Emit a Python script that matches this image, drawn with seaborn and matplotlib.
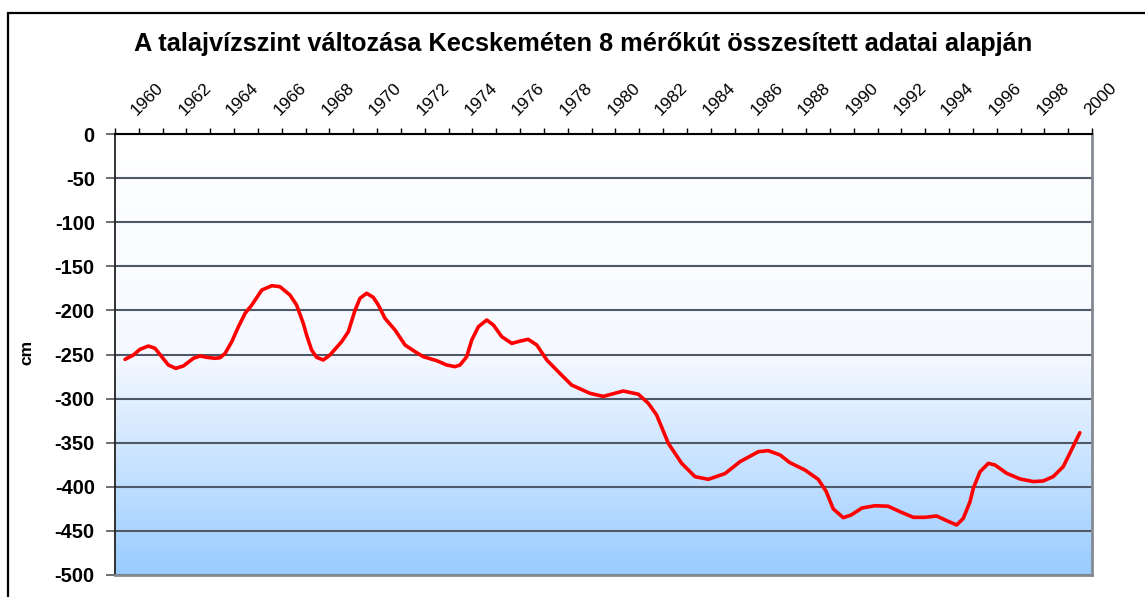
import numpy as np
import pandas as pd
import matplotlib
matplotlib.use("Agg")
import matplotlib.pyplot as plt
from matplotlib.colors import LinearSegmentedColormap
from matplotlib.patches import Rectangle
import seaborn as sns

# Groundwater level (cm below surface), averaged over 8 monitoring wells
years = [
    1959.42, 1959.77, 1960.05, 1960.40, 1960.68, 1960.96, 1961.24, 1961.55,
    1961.87, 1962.29, 1962.57, 1962.85, 1963.20, 1963.41, 1963.62, 1963.90,
    1964.18, 1964.46, 1964.74, 1965.16, 1965.58, 1965.92, 1966.34, 1966.62,
    1966.90, 1967.04, 1967.25, 1967.46, 1967.74, 1968.02, 1968.51, 1968.79,
    1969.07, 1969.28, 1969.56, 1969.84, 1970.05, 1970.33, 1970.75, 1971.17,
    1971.59, 1971.94, 1972.50, 1972.92, 1973.27, 1973.48, 1973.76, 1973.97,
    1974.25, 1974.60, 1974.88, 1975.23, 1975.65, 1976.00, 1976.34, 1976.70,
    1977.12, 1977.60, 1978.16, 1978.93, 1979.49, 1980.33, 1980.96, 1981.38,
    1981.73, 1982.22, 1982.78, 1983.34, 1983.90, 1984.60, 1985.23, 1986.00,
    1986.41, 1986.91, 1987.32, 1987.95, 1988.51, 1988.84, 1989.14, 1989.56,
    1989.89, 1990.35, 1990.89, 1991.44, 1991.94, 1992.50, 1992.99, 1993.48,
    1993.90, 1994.32, 1994.60, 1994.88, 1995.02, 1995.30, 1995.65, 1995.93,
    1996.42, 1996.98, 1997.54, 1997.95, 1998.37, 1998.79, 1999.00, 1999.49,
]
level_cm = [
    -255.5, -250.6, -244.1, -240.4, -243.0, -252.5, -261.9, -265.7,
    -263.0, -254.3, -251.7, -253.2, -254.3, -253.6, -248.7, -235.5,
    -218.5, -203.3, -193.9, -176.9, -172.0, -173.1, -182.5, -193.9,
    -214.6, -227.9, -244.9, -253.2, -256.2, -250.6, -235.5, -224.2,
    -200.0, -186.3, -180.6, -185.2, -193.9, -209.0, -222.2, -239.2,
    -246.8, -252.5, -257.0, -261.9, -263.8, -261.9, -252.5, -233.6,
    -218.5, -210.9, -216.6, -229.8, -237.4, -234.8, -232.8, -239.2,
    -256.2, -269.5, -284.6, -294.0, -297.5, -291.4, -295.0, -305.3,
    -318.6, -350.7, -373.4, -388.5, -391.5, -385.0, -371.5, -360.2,
    -359.0, -363.9, -372.6, -380.9, -391.5, -405.0, -425.0, -435.0,
    -432.0, -424.0, -421.5, -422.0, -428.2, -434.6, -434.6, -433.1,
    -438.4, -443.3, -435.7, -416.9, -401.7, -382.9, -373.4, -375.3,
    -384.7, -391.1, -394.1, -393.4, -388.5, -377.2, -365.9, -338.7,
]
tick_years = list(range(1959, 2001))
tick_labels = [str(y) if y % 2 == 0 else "" for y in tick_years]
y_ticks = list(range(-500, 1, 50))

title = "A talajvízszint változása Kecskeméten 8 mérőkút összesített adatai alapján"

df = pd.DataFrame({"év": years, "cm": level_cm})

sns.set_style("white")
plt.rcParams["font.family"] = ["Liberation Sans", "DejaVu Sans"]
plt.rcParams["text.color"] = "#000000"
plt.rcParams["xtick.labelcolor"] = "#000000"
plt.rcParams["ytick.labelcolor"] = "#000000"

fig = plt.figure(figsize=(11.45, 5.97), dpi=100)
ax = fig.add_axes([115 / 1145, 22 / 597, 977 / 1145, 441 / 597])

# vertical gradient: white at 0 cm, light blue at -500 cm
cmap = LinearSegmentedColormap.from_list("sky", ["#ffffff", "#f6f9ff", "#99ccff"], N=256)
grad = np.linspace(0, 1, 256).reshape(-1, 1)
ax.imshow(grad, extent=[1959, 2000, -500, 0], aspect="auto", cmap=cmap,
          origin="upper", zorder=0, interpolation="bicubic")

sns.lineplot(data=df, x="év", y="cm", ax=ax, color="#ff0000", linewidth=2.6,
             zorder=3, legend=False)

ax.set_xlim(1959, 2000)
ax.set_ylim(-500, 0)

# horizontal gridlines
ax.set_yticks(y_ticks)
ax.yaxis.grid(True, color="#4f5866", linewidth=1.5)
ax.xaxis.grid(False)
ax.set_axisbelow(True)

# year axis on top
ax.xaxis.tick_top()
ax.set_xticks(tick_years)
ax.set_xticklabels(tick_labels)
ax.tick_params(axis="x", top=True, bottom=False, labeltop=True, labelbottom=False,
               direction="out", length=4.5, width=1.0, color="#000000", pad=7,
               labelsize=12.5, labelcolor="#000000")
for lab in ax.get_xticklabels():
    lab.set_rotation(45)
    lab.set_ha("left")
    lab.set_va("bottom")
    lab.set_rotation_mode("anchor")

ax.set_yticklabels([str(v) for v in y_ticks], fontweight="bold")
ax.tick_params(axis="y", left=True, direction="out", length=6.5, width=1.2,
               color="#555555", pad=8, labelsize=14.5, labelcolor="#000000")

ax.set_xlabel("")
ax.set_ylabel("")

for side in ["top", "left", "right", "bottom"]:
    ax.spines[side].set_visible(True)
ax.spines["top"].set_color("#000000")
ax.spines["top"].set_linewidth(1.5)
ax.spines["left"].set_color("#222222")
ax.spines["left"].set_linewidth(1.3)
ax.spines["right"].set_color("#858a92")
ax.spines["right"].set_linewidth(2.0)
ax.spines["bottom"].set_color("#858a92")
ax.spines["bottom"].set_linewidth(2.0)

fig.text(27 / 1145, 1 - 352 / 597, "cm", rotation=90, ha="center", va="center",
         fontsize=12.5, fontweight="bold", color="#000000")

fig.text(583 / 1145, 1 - 44 / 597, title, ha="center", va="center",
         fontsize=18.3, fontweight="bold", color="#000000")

# outer chart frame
fig.patches.append(Rectangle((8 / 1145, -0.05), 1.1, 1 - 13 / 597 + 0.05,
                             transform=fig.transFigure, fill=False,
                             edgecolor="#000000", linewidth=1.6))

fig.savefig("out.png", dpi=100)
